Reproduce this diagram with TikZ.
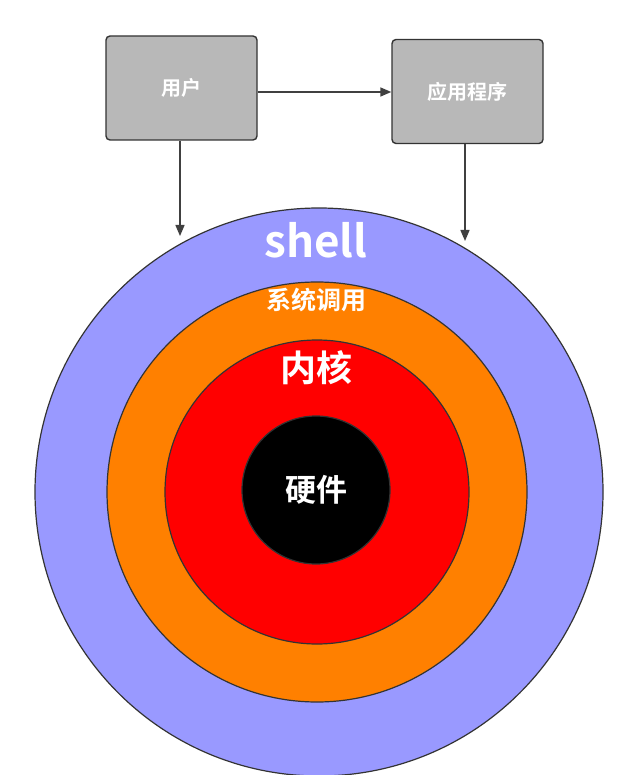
\documentclass[tikz,border=0pt]{standalone}
\usepackage{fontspec}
\setmainfont{Noto Sans CJK SC}[BoldFont={Noto Sans CJK SC Bold}]
\usetikzlibrary{arrows.meta}
\begin{document}
\begin{tikzpicture}[x=1pt,y=-1pt,
  ring/.style={draw=black!80,line width=1.2pt},
  box/.style={draw=black!80,fill=black!28,rounded corners=4pt,line width=1.4pt,minimum width=151pt,minimum height=104pt,inner sep=0pt,font=\bfseries\fontsize{20}{22}\selectfont,text=white},
  arr/.style={draw=black!75,line width=1.4pt,-{Triangle[length=11pt,width=9pt]}},
  lbl/.style={text=white,font=\bfseries}]
\useasboundingbox (0,0) rectangle (632,775);
\fill[white] (0,0) rectangle (632,775);
\draw[ring,fill={rgb,255:red,153;green,153;blue,255}] (319,492) circle (284);
\draw[ring,fill={rgb,255:red,255;green,128;blue,0}] (317,492) circle (210);
\draw[ring,fill=red] (317,492) circle (152);
\draw[ring,fill=black] (316,490) circle (74);
\node[box] (user) at (181.5,88) {用户};
\node[box] (app) at (467.5,91.5) {应用程序};
\coordinate (s1) at (180,236);
\coordinate (s2) at (465,241);
\draw[arr] (user.east |- 0,92) -- (app.west |- 0,92);
\draw[arr] (user.south -| 180,0) -- (s1);
\draw[arr] (app.south -| 465,0) -- (s2);
\node[lbl,font=\bfseries\fontsize{44}{46}\selectfont] (shell) at (316,240) {shell};
\node[lbl,font=\bfseries\fontsize{25}{27}\selectfont] (sys) at (316,300) {系统调用};
\node[lbl,font=\bfseries\fontsize{36}{38}\selectfont] (kern) at (316,368) {内核};
\node[lbl,font=\bfseries\fontsize{31}{33}\selectfont] (hw) at (316,490) {硬件};
\end{tikzpicture}
\end{document}
